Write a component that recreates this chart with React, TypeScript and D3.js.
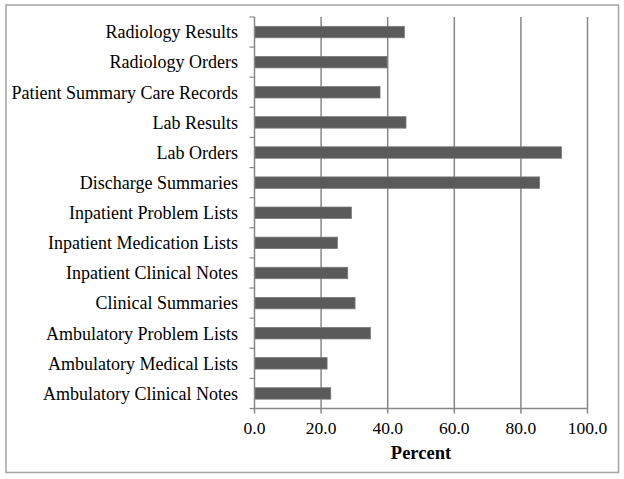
import React from "react";
import * as d3 from "d3";

const categories = [
  "Radiology Results",
  "Radiology Orders",
  "Patient Summary Care Records",
  "Lab Results",
  "Lab Orders",
  "Discharge Summaries",
  "Inpatient Problem Lists",
  "Inpatient Medication Lists",
  "Inpatient Clinical Notes",
  "Clinical Summaries",
  "Ambulatory Problem Lists",
  "Ambulatory Medical Lists",
  "Ambulatory Clinical Notes",
];
const values = [45.0, 39.8, 37.7, 45.5, 92.2, 85.6, 29.1, 24.9, 28.0, 30.2, 34.8, 21.8, 22.9];
const xTicks = [0, 20, 40, 60, 80, 100];
const xTitle = "Percent";

const W = 624;
const H = 479;
const left = 254.5;
const right = 587.5;
const top = 17;
const bottom = 408.5;
const font = "'Liberation Serif', serif";

export default function App() {
  const x = d3.scaleLinear().domain([0, 100]).range([left, right]);
  const y = d3
    .scaleBand<string>()
    .domain(categories)
    .range([top, bottom])
    .paddingInner(0.62)
    .paddingOuter(0.31);
  const step = y.step();
  const boundaries = d3.range(categories.length + 1).map((k) => top + k * step);
  const grid = "#878787";

  return (
    <svg
      width={W}
      height={H}
      style={{ position: "absolute", left: 0, top: 0 }}
    >
      <rect x={0} y={0} width={W} height={H} fill="#fff" />
      <rect x={6} y={5} width={612.5} height={467.5} fill="none" stroke="#a3a3a3" strokeWidth={1.5} />
      {xTicks.filter((t) => t > 0).map((t) => (
        <line key={"g" + t} x1={x(t)} x2={x(t)} y1={top} y2={bottom} stroke={grid} strokeWidth={1.5} />
      ))}
      {categories.map((c, i) => (
        <rect
          key={c}
          x={x(0)}
          y={y(c)}
          width={x(values[i]) - x(0)}
          height={y.bandwidth()}
          fill="#5a5a5a"
          stroke="#7a7a7a"
          strokeWidth={0.8}
        />
      ))}
      <line x1={left} x2={left} y1={top} y2={bottom} stroke={grid} strokeWidth={1.5} />
      <line x1={left} x2={right} y1={bottom} y2={bottom} stroke={grid} strokeWidth={1.5} />
      {boundaries.map((b, k) => (
        <line key={"yt" + k} x1={left - 5} x2={left} y1={b} y2={b} stroke={grid} strokeWidth={1.2} />
      ))}
      {xTicks.map((t) => (
        <g key={"xt" + t}>
          <line x1={x(t)} x2={x(t)} y1={bottom} y2={bottom + 5} stroke={grid} strokeWidth={1.5} />
          <text
            x={x(t)}
            y={434}
            textAnchor="middle"
            fontFamily={font}
            fontSize={17.5}
            fill="#000"
          >
            {t.toFixed(1)}
          </text>
        </g>
      ))}
      {categories.map((c) => (
        <text
          key={"l" + c}
          x={238}
          y={(y(c) as number) + y.bandwidth() / 2}
          dy="0.35em"
          textAnchor="end"
          fontFamily={font}
          fontSize={18}
          fill="#000"
        >
          {c}
        </text>
      ))}
      <text
        x={(left + right) / 2}
        y={459}
        textAnchor="middle"
        fontFamily={font}
        fontWeight="bold"
        fontSize={18.5}
        fill="#000"
      >
        {xTitle}
      </text>
    </svg>
  );
}
